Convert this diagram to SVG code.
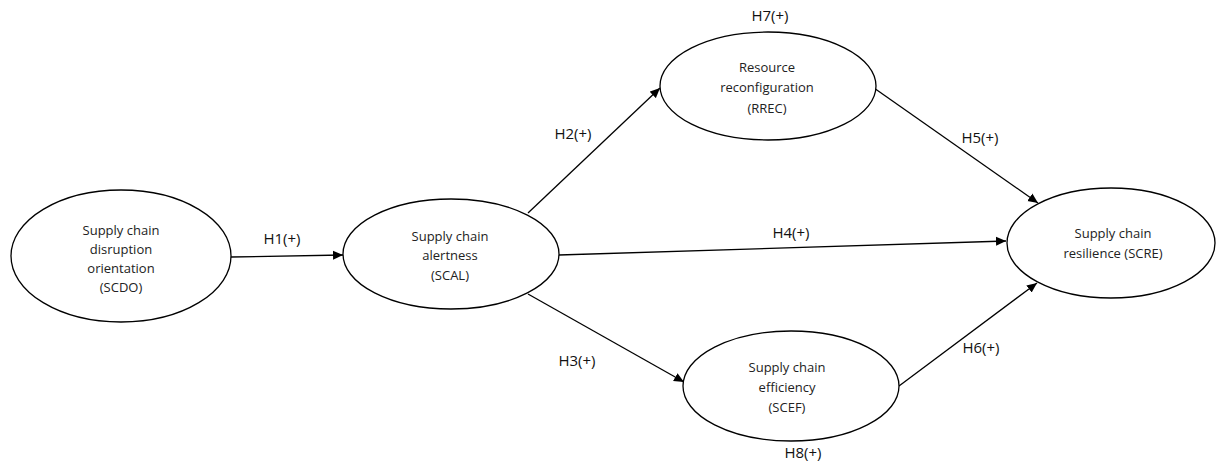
<svg xmlns="http://www.w3.org/2000/svg" width="1218" height="464" viewBox="0 0 1218 464">
<style>
.node ellipse{fill:#fff;stroke:#000;stroke-width:1.3}
.node text{font-family:"Open Sans","Liberation Sans",sans-serif;font-size:13px;fill:#222;text-anchor:middle;dominant-baseline:central}
.lbl{font-family:"Open Sans","Liberation Sans",sans-serif;font-size:15px;fill:#111;text-anchor:middle;dominant-baseline:central}
.edge{stroke:#000;stroke-width:1.3;fill:none;marker-end:url(#arr)}
</style>
<defs>
<marker id="arr" viewBox="0 0 10 10" refX="10" refY="5" markerWidth="10" markerHeight="10" markerUnits="userSpaceOnUse" orient="auto">
<path d="M0,0.5 L10,5 L0,9.5 z" fill="#000"/>
</marker>
</defs>
<rect width="1218" height="464" fill="#fff"/>
<g id="connectors">
<line class="edge" x1="231" y1="257" x2="343" y2="255"/>
<line class="edge" x1="528" y1="213" x2="660" y2="88"/>
<line class="edge" x1="528" y1="294" x2="684" y2="382"/>
<line class="edge" x1="559" y1="255" x2="1006" y2="241"/>
<line class="edge" x1="874" y1="88" x2="1038" y2="203"/>
<line class="edge" x1="899" y1="386" x2="1037" y2="283"/>
</g>
<g id="labels">
<text class="lbl" x="282" y="238">H1(+)</text>
<text class="lbl" x="573" y="133">H2(+)</text>
<text class="lbl" x="577" y="360">H3(+)</text>
<text class="lbl" x="791" y="232">H4(+)</text>
<text class="lbl" x="980" y="137">H5(+)</text>
<text class="lbl" x="981" y="347">H6(+)</text>
<text class="lbl" x="770" y="15">H7(+)</text>
<text class="lbl" x="803" y="452">H8(+)</text>
</g>
<g id="SCDO" class="node">
<ellipse cx="121" cy="256" rx="110" ry="66"/>
<text x="121" y="230">Supply chain</text>
<text x="121" y="249">disruption</text>
<text x="121" y="268">orientation</text>
<text x="121" y="287">(SCDO)</text>
</g>
<g id="SCAL" class="node">
<ellipse cx="451" cy="254" rx="108" ry="55"/>
<text x="450" y="236">Supply chain</text>
<text x="450" y="255">alertness</text>
<text x="450" y="275">(SCAL)</text>
</g>
<g id="RREC" class="node">
<ellipse cx="768" cy="86" rx="108" ry="54"/>
<text x="767" y="67">Resource</text>
<text x="767" y="87">reconfiguration</text>
<text x="767" y="108">(RREC)</text>
</g>
<g id="SCEF" class="node">
<ellipse cx="791" cy="386" rx="108" ry="55"/>
<text x="787" y="367">Supply chain</text>
<text x="787" y="387">efficiency</text>
<text x="787" y="407">(SCEF)</text>
</g>
<g id="SCRE" class="node">
<ellipse cx="1111" cy="243" rx="104" ry="55"/>
<text x="1113" y="233">Supply chain</text>
<text x="1113" y="253">resilience (SCRE)</text>
</g>
</svg>
